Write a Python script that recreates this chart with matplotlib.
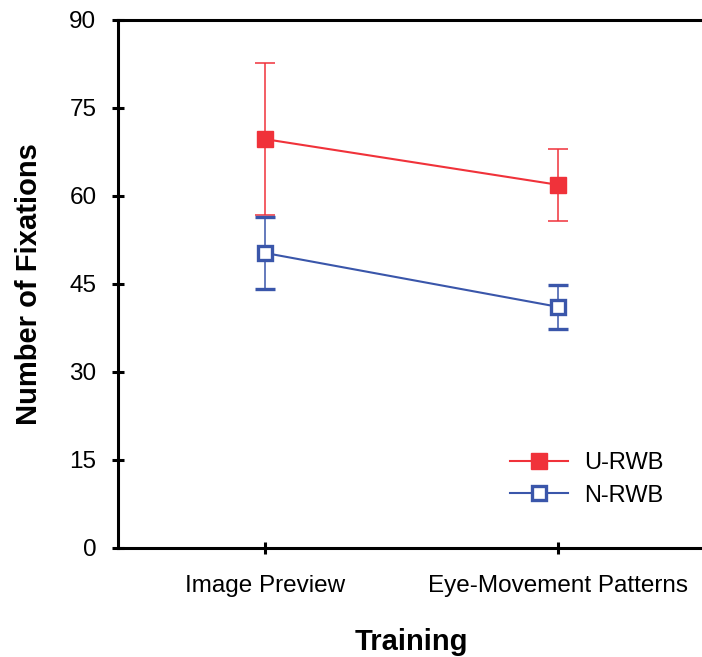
import matplotlib
matplotlib.use("Agg")
import matplotlib.pyplot as plt

# Datos
categorias = ["Image Preview", "Eye-Movement Patterns"]
u_rwb = [69.7, 61.9]
u_rwb_err = [12.9, 6.1]
n_rwb = [50.3, 41.1]
n_rwb_err = [6.1, 3.7]
y_ticks = [0, 15, 30, 45, 60, 75, 90]

rojo = "#f0323a"
azul = "#3a56aa"

plt.rcParams["font.family"] = ["Liberation Sans", "DejaVu Sans"]

fig = plt.figure(figsize=(7.02, 6.57), dpi=100)
ax = fig.add_axes([118 / 702, 1 - 548 / 657, 587 / 702, 528 / 657])

x = list(range(len(categorias)))

ax.errorbar(x, u_rwb, yerr=u_rwb_err, color=rojo, lw=1.5, marker="s",
            ms=12, mfc=rojo, mec=rojo, elinewidth=1.1, capsize=7,
            capthick=1.1, label="U-RWB")
ax.errorbar(x, n_rwb, yerr=n_rwb_err, color=azul, lw=1.5, marker="s",
            ms=10, mfc="white", mec=azul, mew=2.4, elinewidth=1.1,
            capsize=7, capthick=1.1, label="N-RWB")

ax.set_xlim(-0.5, 1.5)
ax.set_ylim(0, 90)
ax.set_yticks(y_ticks)
ax.set_xticks(x)
ax.set_xticklabels(categorias)

for s in ["left", "bottom", "top"]:
    ax.spines[s].set_linewidth(2.2)
ax.spines["right"].set_visible(False)
ax.tick_params(direction="inout", length=9, width=2.2, labelsize=17.5)
ax.tick_params(axis="x", pad=15)
ax.tick_params(axis="y", pad=11)

ax.set_ylabel("Number of Fixations", fontsize=21, fontweight="bold", labelpad=19)
ax.set_xlabel("Training", fontsize=21, fontweight="bold", labelpad=22)

handles, labels = ax.get_legend_handles_labels()
handles = [h[0] for h in handles]
fig.legend(handles, labels, loc="upper left",
           bbox_to_anchor=(510 / 702, 1 - 452 / 657),
           frameon=False, fontsize=17, handlelength=2.45, handletextpad=0.7,
           labelspacing=0.45, borderpad=0, borderaxespad=0)

fig.savefig("out.png", dpi=100)
